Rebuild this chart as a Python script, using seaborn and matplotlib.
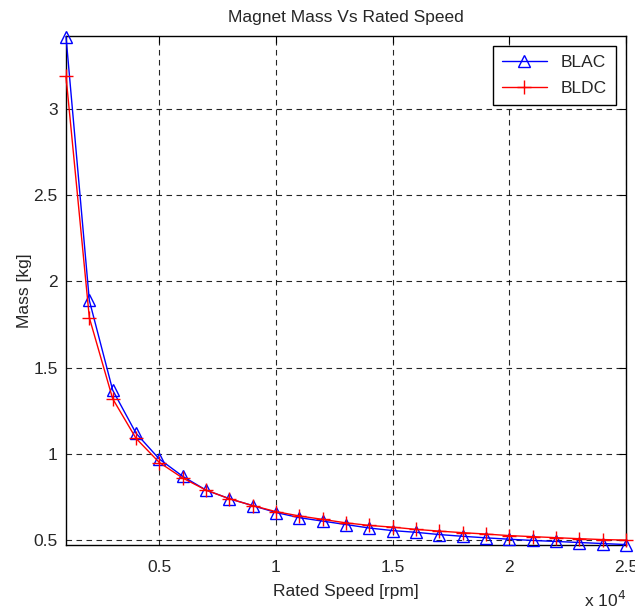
import numpy as np
import pandas as pd
import matplotlib
matplotlib.use("Agg")
import matplotlib.pyplot as plt
import seaborn as sns

speed = list(range(1000, 26000, 1000))
blac = [3.42, 1.89, 1.37, 1.12, 0.97, 0.87, 0.79, 0.74, 0.70, 0.66, 0.63, 0.61, 0.59,
        0.57, 0.555, 0.545, 0.532, 0.522, 0.513, 0.505, 0.498, 0.492, 0.486, 0.480, 0.474]
bldc = [3.19, 1.79, 1.32, 1.09, 0.95, 0.86, 0.79, 0.74, 0.70, 0.665, 0.64, 0.62, 0.60,
        0.585, 0.575, 0.562, 0.552, 0.543, 0.535, 0.526, 0.520, 0.514, 0.508, 0.503, 0.500]

sns.set_style("white")
plt.rcParams["font.family"] = ["Liberation Sans", "DejaVu Sans"]
FS = 12.5

fig = plt.figure(figsize=(6.35, 6.13), dpi=100)
ax = fig.add_axes([66/635, 1-545/613, (626-66)/635, (545-36)/613])

sns.lineplot(x=speed, y=blac, color="#0000ff", marker="^", markersize=9,
             markerfacecolor="none", markeredgecolor="#0000ff", markeredgewidth=1.0,
             linewidth=1.0, label="BLAC", ax=ax, clip_on=False, zorder=3)
sns.lineplot(x=speed, y=bldc, color="#ff0000", marker="+", markersize=10,
             markeredgecolor="#ff0000", markeredgewidth=1.0,
             linewidth=1.0, label="BLDC", ax=ax, clip_on=False, zorder=4)

ax.set_xlim(1000, 25000)
ax.set_ylim(0.4715, 3.424)
ax.set_xticks([5000, 10000, 15000, 20000, 25000])
ax.set_xticklabels(["0.5", "1", "1.5", "2", "2.5"])
ax.set_yticks([0.5, 1, 1.5, 2, 2.5, 3])
ax.set_yticklabels(["0.5", "1", "1.5", "2", "2.5", "3"])
ax.grid(True, color="black", linestyle=(0, (5, 4)), linewidth=0.8, alpha=0.85)
ax.tick_params(axis="both", labelsize=FS, direction="in", length=5, color="black",
               top=True, right=True)
ax.tick_params(axis="y", pad=6)
ax.tick_params(axis="x", pad=11)
for s in ax.spines.values():
    s.set_color("black")
    s.set_linewidth(1.0)

ax.set_xlabel("Rated Speed [rpm]", fontsize=FS, labelpad=6)
ax.set_ylabel("Mass [kg]", fontsize=FS, labelpad=1)
ax.set_title("Magnet Mass Vs Rated Speed", fontsize=FS, pad=10)
fig.text(605/635, 1-600/613, r"x 10$^4$", fontsize=FS, ha="center", va="center")

leg = ax.legend(loc="upper right", fontsize=FS, frameon=True, fancybox=False,
                edgecolor="black", framealpha=1, borderaxespad=0.6, handlelength=2.6,
                borderpad=0.5, labelspacing=0.6)
leg.get_frame().set_linewidth(1.0)

fig.savefig("out.png", dpi=100)
